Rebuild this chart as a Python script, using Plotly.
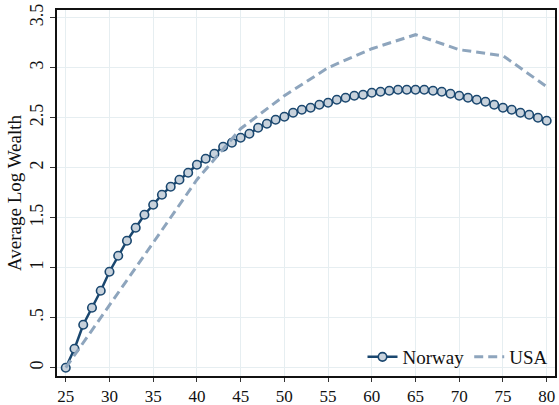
import plotly.graph_objects as go

# Average log wealth by age
ages_norway = list(range(25, 81))
wealth_norway = [
    0.00, 0.19, 0.43, 0.60, 0.77, 0.96, 1.12, 1.27, 1.40, 1.53,
    1.63, 1.73, 1.81, 1.88, 1.95, 2.03, 2.09, 2.14, 2.21, 2.25,
    2.30, 2.34, 2.40, 2.44, 2.48, 2.51, 2.55, 2.58, 2.60, 2.63,
    2.65, 2.68, 2.70, 2.72, 2.73, 2.75, 2.76, 2.77, 2.78, 2.78,
    2.78, 2.78, 2.77, 2.76, 2.74, 2.72, 2.70, 2.68, 2.66, 2.63,
    2.60, 2.58, 2.55, 2.53, 2.50, 2.47,
]

ages_usa = [25, 30, 35, 40, 45, 50, 55, 60, 65, 70, 75, 80]
wealth_usa = [0.00, 0.62, 1.25, 1.88, 2.39, 2.72, 3.00, 3.19, 3.33, 3.18, 3.12, 2.81]

x_ticks = list(range(25, 81, 5))
y_ticks = [0, 0.5, 1, 1.5, 2, 2.5, 3, 3.5]
y_tick_labels = ["0", ".5", "1", "1.5", "2", "2.5", "3", "3.5"]

NAVY = "#1a476f"
STEEL = "#8ea5bd"
GRID = "#e6eef1"
FONT = "Liberation Serif"

fig = go.Figure()

fig.add_trace(go.Scatter(
    x=ages_norway, y=wealth_norway, name="Norway",
    mode="lines+markers",
    line=dict(color=NAVY, width=2.5),
    marker=dict(symbol="circle", size=8.5, color="#c8d2dc",
                line=dict(color=NAVY, width=1.6)),
))

fig.add_trace(go.Scatter(
    x=ages_usa, y=wealth_usa, name="USA",
    mode="lines",
    line=dict(color=STEEL, width=3, dash="9px,5px"),
))

fig.update_layout(
    width=559, height=405,
    margin=dict(l=57, r=4, t=10, b=29),
    paper_bgcolor="white",
    plot_bgcolor="white",
    font=dict(family=FONT, size=18, color="#111111"),
    showlegend=True,
    legend=dict(
        orientation="h",
        x=0.995, xanchor="right",
        y=0.0, yanchor="bottom",
        bgcolor="rgba(0,0,0,0)",
        font=dict(family=FONT, size=19),
        itemwidth=30,
        tracegroupgap=0,
    ),
)

fig.update_xaxes(
    range=[24.0, 80.95],
    tickvals=x_ticks,
    ticks="outside", ticklen=4, tickcolor="#333333", tickwidth=1,
    showgrid=True, gridcolor=GRID, gridwidth=1,
    zeroline=False,
    showline=True, linecolor="#111111", linewidth=1.5, mirror=True,
    tickfont=dict(family=FONT, size=17),
    automargin=False,
)

fig.update_yaxes(
    range=[-0.083, 3.577],
    tickvals=y_ticks, ticktext=y_tick_labels,
    tickangle=-90,
    ticks="outside", ticklen=5, tickcolor="#333333", tickwidth=1,
    showgrid=True, gridcolor=GRID, gridwidth=1,
    zeroline=False,
    showline=True, linecolor="#111111", linewidth=1.5, mirror=True,
    tickfont=dict(family=FONT, size=18),
    title=dict(text="Average Log Wealth", font=dict(family=FONT, size=19), standoff=0),
    automargin=False,
)

fig.write_html("out.html")
